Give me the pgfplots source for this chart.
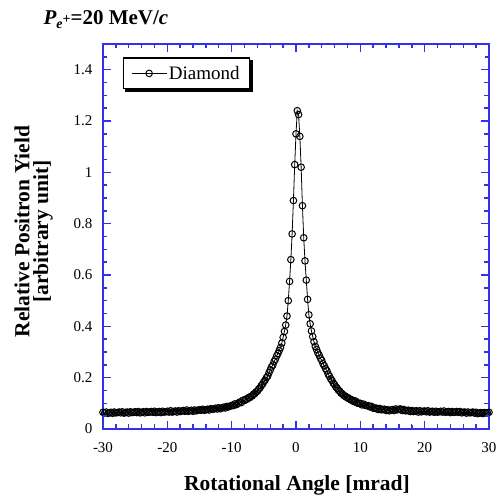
\documentclass[border=0pt]{standalone}
\usepackage{fontspec}
\setmainfont{Liberation Serif}
\usepackage{pgfplots}
\pgfplotsset{compat=1.18}
\usepackage{pgfplotstable}
\usetikzlibrary{backgrounds}
\definecolor{frameblue}{RGB}{50,50,235}

\pgfplotstableread{
x y
-30.00 0.065
-29.75 0.062
-29.50 0.066
-29.25 0.061
-29.00 0.063
-28.75 0.065
-28.50 0.061
-28.25 0.066
-28.00 0.063
-27.75 0.064
-27.50 0.066
-27.25 0.063
-27.00 0.067
-26.75 0.062
-26.50 0.064
-26.25 0.066
-26.00 0.062
-25.75 0.067
-25.50 0.064
-25.25 0.065
-25.00 0.067
-24.75 0.064
-24.50 0.068
-24.25 0.063
-24.00 0.065
-23.75 0.067
-23.50 0.063
-23.25 0.068
-23.00 0.065
-22.75 0.066
-22.50 0.068
-22.25 0.065
-22.00 0.069
-21.75 0.064
-21.50 0.066
-21.25 0.068
-21.00 0.064
-20.75 0.069
-20.50 0.066
-20.25 0.067
-20.00 0.069
-19.75 0.066
-19.50 0.071
-19.25 0.066
-19.00 0.068
-18.75 0.070
-18.50 0.066
-18.25 0.071
-18.00 0.068
-17.75 0.070
-17.50 0.072
-17.25 0.069
-17.00 0.074
-16.75 0.069
-16.50 0.071
-16.25 0.073
-16.00 0.069
-15.75 0.074
-15.50 0.071
-15.25 0.073
-15.00 0.075
-14.75 0.073
-14.50 0.077
-14.25 0.073
-14.00 0.075
-13.75 0.077
-13.50 0.074
-13.25 0.079
-13.00 0.077
-12.75 0.078
-12.50 0.081
-12.25 0.078
-12.00 0.083
-11.75 0.079
-11.50 0.082
-11.25 0.085
-11.00 0.082
-10.75 0.088
-10.50 0.086
-10.25 0.089
-10.00 0.092
-9.75 0.091
-9.50 0.098
-9.25 0.095
-9.00 0.100
-8.75 0.105
-8.50 0.103
-8.25 0.112
-8.0 0.111
-7.8 0.116
-7.6 0.116
-7.4 0.122
-7.2 0.122
-7.0 0.127
-6.8 0.129
-6.6 0.136
-6.4 0.138
-6.2 0.145
-6.0 0.147
-5.8 0.156
-5.6 0.160
-5.4 0.169
-5.2 0.175
-5.0 0.184
-4.8 0.190
-4.6 0.200
-4.4 0.206
-4.2 0.219
-4.0 0.230
-3.8 0.242
-3.6 0.249
-3.4 0.263
-3.2 0.272
-3.0 0.285
-2.8 0.294
-2.6 0.306
-2.4 0.318
-2.2 0.335
-2.0 0.357
-1.8 0.380
-1.6 0.405
-1.4 0.440
-1.2 0.500
-1.0 0.575
-0.8 0.660
-0.6 0.760
-0.4 0.890
-0.2 1.030
0.0 1.150
0.2 1.240
0.4 1.225
0.6 1.140
0.8 1.020
1.0 0.870
1.2 0.745
1.4 0.655
1.6 0.580
1.8 0.505
2.0 0.445
2.2 0.410
2.4 0.382
2.6 0.360
2.8 0.340
3.0 0.322
3.2 0.310
3.4 0.297
3.6 0.288
3.8 0.276
4.0 0.267
4.2 0.254
4.4 0.246
4.6 0.235
4.8 0.227
5.0 0.214
5.2 0.206
5.4 0.195
5.6 0.189
5.8 0.179
6.0 0.173
6.2 0.164
6.4 0.159
6.6 0.151
6.8 0.147
7.0 0.140
7.2 0.137
7.4 0.131
7.6 0.129
7.8 0.124
8.0 0.123
8.2 0.118
8.4 0.117
8.6 0.112
8.75 0.113
9.00 0.107
9.25 0.109
9.50 0.101
9.75 0.101
10.00 0.100
10.25 0.094
10.50 0.097
10.75 0.092
11.00 0.091
11.25 0.091
11.50 0.086
11.75 0.088
12.00 0.081
12.25 0.082
12.50 0.081
12.75 0.076
13.00 0.080
13.25 0.075
13.50 0.076
13.75 0.077
14.00 0.072
14.25 0.075
14.50 0.071
14.75 0.074
15.00 0.076
15.25 0.072
15.50 0.078
15.75 0.075
16.00 0.077
16.25 0.078
16.50 0.072
16.75 0.076
17.00 0.071
17.25 0.072
17.50 0.073
17.75 0.068
18.00 0.072
18.25 0.068
18.50 0.070
18.75 0.071
19.00 0.066
19.25 0.071
19.50 0.067
19.75 0.069
20.00 0.070
20.25 0.067
20.50 0.071
20.75 0.066
21.00 0.068
21.25 0.069
21.50 0.065
21.75 0.069
22.00 0.066
22.25 0.067
22.50 0.069
22.75 0.066
23.00 0.070
23.25 0.065
23.50 0.067
23.75 0.068
24.00 0.064
24.25 0.068
24.50 0.065
24.75 0.066
25.00 0.068
25.25 0.065
25.50 0.068
25.75 0.063
26.00 0.065
26.25 0.066
26.50 0.062
26.75 0.066
27.00 0.063
27.25 0.064
27.50 0.066
27.75 0.062
28.00 0.065
28.25 0.060
28.50 0.062
28.75 0.064
29.00 0.060
29.25 0.064
29.50 0.062
29.75 0.063
30.00 0.065
}\diamonddata

\begin{document}
\begin{tikzpicture}
\begin{axis}[
  at={(0,0)}, anchor=south west,
  scale only axis, width=386pt, height=385pt,
  xmin=-30, xmax=30, ymin=0, ymax=1.5,
  xtick={-30,-20,-10,0,10,20,30},
  ytick={0,0.2,0.4,0.6,0.8,1,1.2,1.4},
  minor x tick num=4, minor y tick num=3,
  major tick style={frameblue, line width=1.4pt},
  minor tick style={frameblue, line width=1.4pt},
  major tick length=8pt, minor tick length=4.5pt,
  axis line style={frameblue, line width=1.3pt},
  /pgf/number format/assume math mode=true,
  ticklabel style={font=\fontsize{15}{18}\selectfont},
  xticklabel style={yshift=-10pt},
  yticklabel style={xshift=-7pt},
  legend style={name=leg, at={(0.051,0.965)}, anchor=north west, draw=black, line width=1.2pt,
    fill=white, font=\fontsize{19}{21}\selectfont,
    inner xsep=8pt, inner ysep=6pt},
  legend cell align=left,
  legend image code/.code={\draw[mark repeat=2,mark phase=2,#1, line width=0.7pt] plot coordinates {(0pt,0pt)(17.5pt,0pt)(35pt,0pt)};},
]
\addplot[black, line width=0.8pt, mark=o, mark size=3.3pt, mark options={line width=1pt, fill=none}] table[x=x,y=y] {\diamonddata};
\addlegendentry{Diamond}
\end{axis}
% frame ticks drawn as decoration along the axis box (386pt x 385pt)
\foreach \i in {1,...,29} {
  \draw[frameblue, line width=1.4pt] (\i*12.8667pt,0pt) -- ++(0pt,4.5pt);
  \draw[frameblue, line width=1.4pt] (\i*12.8667pt,385pt) -- ++(0pt,-4.5pt);
  \draw[frameblue, line width=1.4pt] (0pt,\i*12.8333pt) -- ++(4.5pt,0pt);
  \draw[frameblue, line width=1.4pt] (386pt,\i*12.8333pt) -- ++(-4.5pt,0pt);
}
\foreach \i in {5,10,15,20,25} {
  \draw[frameblue, line width=1.4pt] (\i*12.8667pt,0pt) -- ++(0pt,8pt);
  \draw[frameblue, line width=1.4pt] (\i*12.8667pt,385pt) -- ++(0pt,-8pt);
}
\foreach \i in {4,8,12,16,20,24,28} {
  \draw[frameblue, line width=1.4pt] (0pt,\i*12.8333pt) -- ++(8pt,0pt);
  \draw[frameblue, line width=1.4pt] (386pt,\i*12.8333pt) -- ++(-8pt,0pt);
}
\begin{scope}[on background layer]
\fill[black] ([xshift=2.5pt,yshift=-2.5pt]leg.south west) rectangle ([xshift=2.5pt,yshift=-2.5pt]leg.north east);
\end{scope}
\node[anchor=base west] at (-63pt,404pt) {\fontsize{21}{24}\selectfont\bfseries\itshape P\raisebox{-0.35ex}{\fontsize{14}{14}\selectfont e\raisebox{0.7ex}{\upshape +}}\upshape=20 MeV/\itshape c};
\node[rotate=90] at (-81pt,197.5pt) {\fontsize{21.5}{24}\selectfont\bfseries Relative Positron Yield};
\node[rotate=90] at (-60pt,197.5pt) {\fontsize{21.5}{24}\selectfont\bfseries [arbitrary unit]};
\node at (194pt,-56pt) {\fontsize{21.5}{24}\selectfont\bfseries Rotational Angle [mrad]};
\pgfresetboundingbox
\path[use as bounding box] (-103pt,-70pt) rectangle (394pt,429pt);
\end{tikzpicture}
\end{document}
